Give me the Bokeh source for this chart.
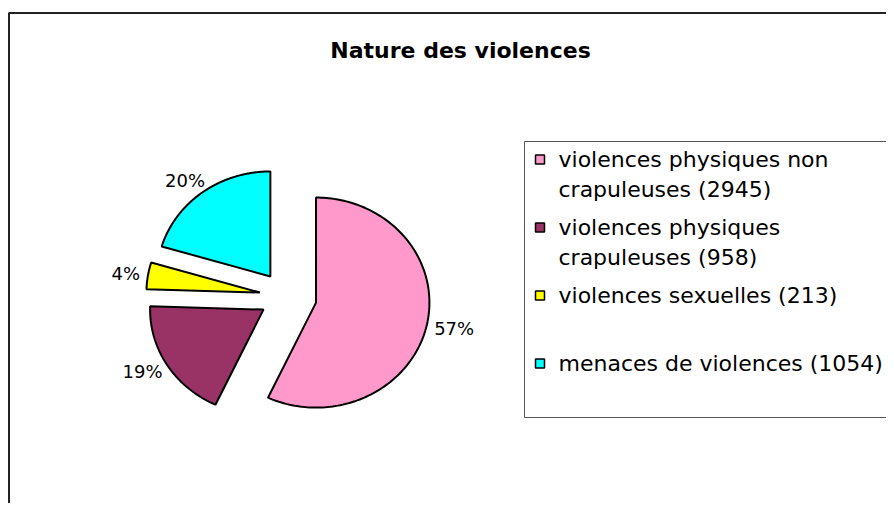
import numpy as np
from bokeh.plotting import figure
from bokeh.models import Range1d
from bokeh.core.properties import value
from bokeh.embed import file_html
from bokeh.resources import INLINE

# ---------------- data ----------------
title = "Nature des violences"
categories = ["violences physiques non\ncrapuleuses",
              "violences physiques\ncrapuleuses",
              "violences sexuelles",
              "menaces de violences"]
counts = [2945, 958, 213, 1054]
colors = ["#FF99CC", "#993366", "#FFFF00", "#00FFFF"]
explode = [28, 25, 25, 25]

# ---------------- figure ----------------
W, H = 886, 503
FONT = "DejaVu Sans"
p = figure(width=W, height=H, x_range=Range1d(0, W), y_range=Range1d(H, 0),
           output_backend="svg", toolbar_location=None, min_border=0,
           x_axis_location=None, y_axis_location=None)
p.grid.visible = False
p.outline_line_color = None
p.background_fill_color = "white"
p.border_fill_color = "white"

# outer chart border (left + top visible, rest outside window)
p.line(x=[8.5, 8.5, W + 20], y=[H + 20, 12.5, 12.5], line_color="#222222", line_width=2)

# title
p.text(x=[460], y=[50], text=[title], text_font=value(FONT), text_font_style="bold",
       text_font_size=value("22px"), text_align="center", text_baseline="alphabetic",
       text_color="black")

# ---------------- pie ----------------
cx, cy, R, SX = 286, 296, 105, 1.08
vals = np.array(counts, dtype=float)
frac = vals / vals.sum()
ends = np.cumsum(frac) * 2 * np.pi
starts = ends - frac * 2 * np.pi

xs, ys = [], []
lab_x, lab_y, lab_t = [], [], []
LFS = 18
for s, e, d, f in zip(starts, ends, explode, frac):
    mid = (s + e) / 2
    vx = cx + d * SX * np.sin(mid)
    vy = cy - d * np.cos(mid)
    th = np.linspace(s, e, 160)
    xs.append([vx] + list(vx + R * SX * np.sin(th)))
    ys.append([vy] + list(vy - R * np.cos(th)))
    # label placement outside the slice
    ex = vx + R * SX * np.sin(mid)
    ey = vy - R * np.cos(mid)
    ux, uy = SX * np.sin(mid), -np.cos(mid)
    n = np.hypot(ux, uy)
    ux, uy = ux / n, uy / n
    txt = f"{round(f * 100)}%"
    w = LFS * (0.636 * (len(txt) - 1) + 0.95)
    h = LFS * 0.729
    g = 8
    lab_x.append(ex + ux * g + ux * w / 2)
    lab_y.append(ey + uy * g + uy * h / 2)
    lab_t.append(txt)

p.patches(xs, ys, fill_color=colors, line_color="black", line_width=2)
p.text(x=lab_x, y=lab_y, text=lab_t, text_font=value(FONT), text_font_size=value(f"{LFS}px"),
       text_align="center", text_baseline="middle", text_color="black")

# ---------------- legend ----------------
p.quad(left=[524], right=[W + 20], top=[141], bottom=[417],
       fill_color="white", line_color="#555555", line_width=1)
ly0, step, lh = 159, 68, 29.5
sw_x, sw_y, tx, ty, tt = [], [], [], [], []
for i, (cat, cnt) in enumerate(zip(categories, counts)):
    lines = f"{cat} ({cnt})".split("\n")
    sw_x.append(539.5)
    sw_y.append(ly0 + i * step)
    for j, ln in enumerate(lines):
        tx.append(558)
        ty.append(ly0 + i * step + j * lh)
        tt.append(ln)
p.scatter(x=sw_x, y=sw_y, marker="square", size=9, fill_color=colors,
          line_color="black", line_width=1.5)
p.text(x=tx, y=ty, text=tt, text_font=value(FONT), text_font_size=value("22px"),
       text_align="left", text_baseline="middle", text_color="black")

open("out.html", "w").write(file_html(p, INLINE))
